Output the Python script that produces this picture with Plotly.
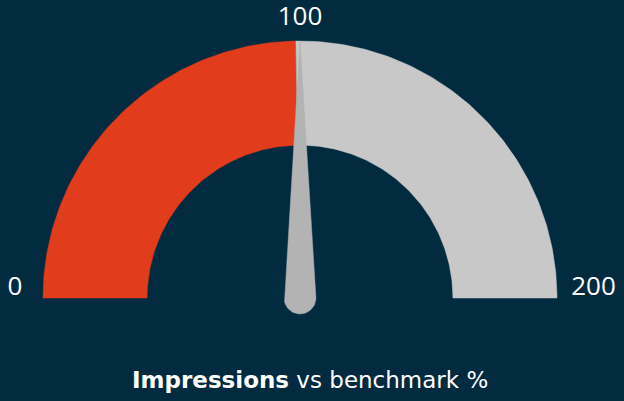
import numpy as np
import plotly.graph_objects as go

# gauge data
gauge_min = 0
gauge_max = 200
fill_value = 99        # red part of the arc
needle_value = 100     # where the needle points
tick_values = [0, 100, 200]
tick_labels = ['0', '100', '200']
title_bold = 'Impressions'
title_rest = 'vs benchmark %'

# styling
BG = '#022b40'
RED = '#e13c1b'
GREY = '#c8c8c8'
NEEDLE = '#b3b3b3'
FONT = 'Open Sans'
TITLE_FONT = 'DejaVu Sans'
INNER = 0.595            # inner radius relative to outer
LABEL_R = [1.109, 1.087, 1.142]  # label distance from centre, per tick


def to_angle(v):
    """value -> angle in radians (0 at left, 200 at right)"""
    return np.pi * (1 - (v - gauge_min) / (gauge_max - gauge_min))


def band(v0, v1, r0, r1, n=120):
    a = np.linspace(to_angle(v0), to_angle(v1), n)
    xs = np.concatenate([r1 * np.cos(a), r0 * np.cos(a[::-1])])
    ys = np.concatenate([r1 * np.sin(a), r0 * np.sin(a[::-1])])
    return np.append(xs, xs[0]), np.append(ys, ys[0])


fig = go.Figure()

# arcs
for v0, v1, col in [(gauge_min, fill_value, RED), (fill_value, gauge_max, GREY)]:
    x, y = band(v0, v1, INNER, 1.0)
    fig.add_trace(go.Scatter(
        x=x, y=y, mode='lines', fill='toself',
        fillcolor=col, line=dict(color=col, width=0.5),
        hoverinfo='skip'
    ))

# needle
ang = to_angle(needle_value)
base_r = 0.062
tip_r = 0.995
t = np.linspace(ang + np.pi / 2, ang + 3 * np.pi / 2, 40)
nx = np.concatenate([[tip_r * np.cos(ang)], base_r * np.cos(t), [tip_r * np.cos(ang)]])
ny = np.concatenate([[tip_r * np.sin(ang)], base_r * np.sin(t), [tip_r * np.sin(ang)]])
fig.add_trace(go.Scatter(
    x=nx, y=ny, mode='lines', fill='toself',
    fillcolor=NEEDLE, line=dict(color=NEEDLE, width=0.5),
    hoverinfo='skip'
))

# tick labels: ends sit level with the arc base, the middle one above the arc
tick_x = []
tick_y = []
for v, r in zip(tick_values, LABEL_R):
    a = to_angle(v)
    tick_x.append(np.cos(a) * r)
    tick_y.append(max(np.sin(a) * r, 0.037))
fig.add_trace(go.Scatter(
    x=tick_x, y=tick_y, mode='text', text=tick_labels,
    textfont=dict(family=FONT, size=26, color='white'),
    hoverinfo='skip'
))

fig.add_annotation(
    x=0.04, y=-0.32, xref='x', yref='y', showarrow=False,
    text=f'<b>{title_bold}</b> {title_rest}',
    font=dict(family=TITLE_FONT, size=23, color='white')
)

# pixel-matched ranges: centre at (300, 298), outer radius 257px
fig.update_xaxes(range=[-300 / 257, 324 / 257], visible=False, fixedrange=True)
fig.update_yaxes(range=[(298 - 401) / 257, 298 / 257], visible=False, fixedrange=True)

fig.update_layout(
    width=624, height=401, autosize=False,
    margin=dict(l=0, r=0, t=0, b=0),
    paper_bgcolor=BG, plot_bgcolor=BG,
    showlegend=False
)

# drop the browser's default body margin so the chart fills the window
fig.write_html(
    "out.html",
    config={'displayModeBar': False},
    post_script="document.body.style.margin='0';"
)
